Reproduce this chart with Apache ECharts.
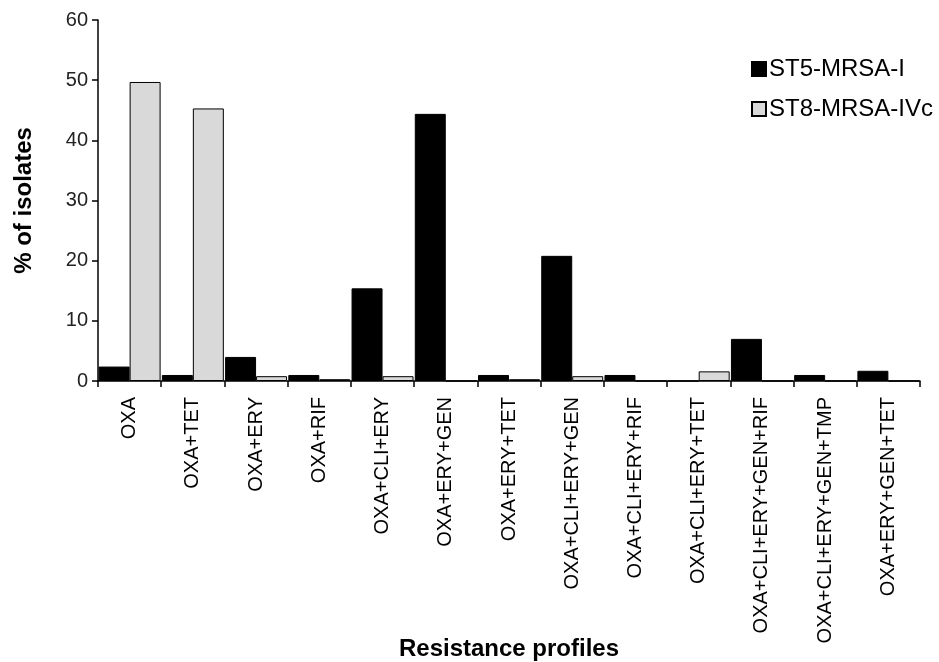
<!DOCTYPE html>
<html>
<head>
<meta charset="utf-8">
<script src="https://cdn.jsdelivr.net/npm/echarts@6/dist/echarts.min.js"></script>
<style>html,body{margin:0;padding:0;background:#fff;}#c{width:939px;height:662px;}</style>
</head>
<body>
<div id="c"></div>
<script>
const categories = ["OXA","OXA+TET","OXA+ERY","OXA+RIF","OXA+CLI+ERY","OXA+ERY+GEN","OXA+ERY+TET","OXA+CLI+ERY+GEN","OXA+CLI+ERY+RIF","OXA+CLI+ERY+TET","OXA+CLI+ERY+GEN+RIF","OXA+CLI+ERY+GEN+TMP","OXA+ERY+GEN+TET"];
const st5 = [2.4, 1.0, 4.0, 1.0, 15.4, 44.4, 1.0, 20.8, 1.0, 0, 7.0, 1.0, 1.7];
const st8 = [49.7, 45.3, 0.8, 0.3, 0.8, 0, 0.3, 0.8, 0, 1.6, 0, 0, 0];
const seriesNames = ["ST5-MRSA-I", "ST8-MRSA-IVc"];
const yTicks = {min: 0, max: 60, interval: 10};

const FONT = "Liberation Sans, Arial, sans-serif";
const chart = echarts.init(document.getElementById('c'), null, {renderer: 'canvas'});
chart.setOption({
  animation: false,
  backgroundColor: '#fff',
  textStyle: {fontFamily: FONT},
  grid: {left: 98, right: 19, top: 20, bottom: 281, containLabel: false, outerBoundsMode: 'none'},
  legend: {
    orient: 'vertical', left: 746, top: 52,
    icon: 'rect', itemWidth: 14, itemHeight: 14, itemGap: 16,
    textStyle: {fontSize: 24, color: '#000', fontFamily: FONT, padding: [0,0,0,-2]},
    data: seriesNames
  },
  xAxis: {
    type: 'category', data: categories,
    name: 'Resistance profiles', nameLocation: 'middle', nameGap: 256, nameMoveOverlap: false,
    nameTextStyle: {fontSize: 24, fontWeight: 'bold', color: '#000', fontFamily: FONT},
    axisLine: {lineStyle: {color: '#000', width: 1.5}},
    axisTick: {show: true, length: 6, alignWithLabel: false, lineStyle: {color: '#000', width: 1.5}},
    axisLabel: {interval: 0, rotate: 90, fontSize: 20, color: '#000', margin: 16, fontFamily: FONT},
    splitLine: {show: false}
  },
  yAxis: {
    type: 'value', min: yTicks.min, max: yTicks.max, interval: yTicks.interval,
    name: '% of isolates', nameLocation: 'middle', nameGap: 62, nameMoveOverlap: false,
    nameTextStyle: {fontSize: 24, fontWeight: 'bold', color: '#000', fontFamily: FONT},
    axisLine: {show: true, lineStyle: {color: '#000', width: 1.5}},
    axisTick: {show: true, length: 6, lineStyle: {color: '#000', width: 1.5}},
    axisLabel: {fontSize: 20, color: '#222', margin: 10, fontFamily: FONT},
    splitLine: {show: false}
  },
  series: [
    {name: seriesNames[0], type: 'bar', data: st5, barGap: '0%', barCategoryGap: '2%',
     itemStyle: {color: '#000', borderColor: '#000', borderWidth: 1}},
    {name: seriesNames[1], type: 'bar', data: st8, barGap: '0%', barCategoryGap: '2%',
     itemStyle: {color: '#d9d9d9', borderColor: '#000', borderWidth: 1}}
  ]
});
</script>
</body>
</html>
